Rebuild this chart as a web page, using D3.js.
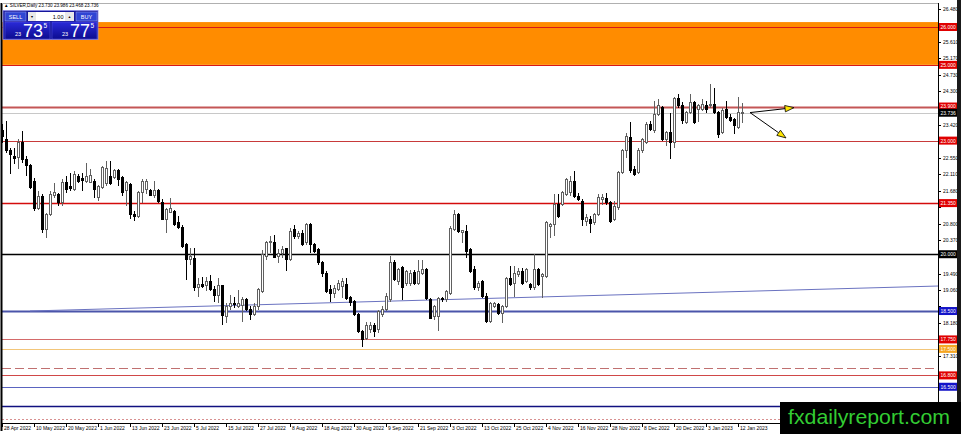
<!DOCTYPE html>
<html><head><meta charset="utf-8">
<script src="https://cdn.jsdelivr.net/npm/d3@7"></script>
<style>html,body{margin:0;padding:0;background:#fff;overflow:hidden}svg{display:block}</style>
</head><body>
<svg id="c" width="961" height="434"></svg>
<script>
// ---------- data ----------
const opens  = [23.26,23.03,22.73,22.59,22.55,22.95,22.51,22.33,21.93,21.21,21.53,20.65,21.05,21.55,21.58,21.36,21.89,21.80,21.71,22.06,22.00,21.93,21.90,21.93,21.49,21.75,21.87,22.06,22.02,22.20,22.02,21.67,21.84,21.05,21.00,21.62,21.71,21.67,21.55,21.67,21.36,20.92,21.11,21.14,20.83,20.70,20.25,19.87,19.90,19.13,19.19,19.17,19.28,19.08,18.90,19.17,18.36,18.62,18.71,18.62,18.64,18.80,18.55,18.40,18.62,19.02,19.94,20.30,20.32,19.94,20.03,20.14,19.86,20.65,20.47,20.56,20.30,20.78,20.25,20.12,19.77,19.50,19.06,18.97,19.06,19.15,19.19,18.87,18.75,18.40,17.96,17.78,18.00,18.11,18.00,18.40,18.53,18.80,19.77,19.28,19.64,19.24,19.24,19.52,19.24,19.50,19.59,18.80,18.35,18.35,18.84,18.80,18.97,20.65,21.05,20.58,20.61,20.12,19.59,19.11,19.28,18.88,18.22,18.62,18.66,18.44,18.62,19.37,19.24,19.46,19.55,19.28,19.19,19.11,19.59,19.41,19.41,20.74,20.78,21.31,21.31,21.58,21.62,21.93,21.53,21.40,20.87,20.93,20.83,21.05,21.45,21.47,21.36,20.92,21.23,22.15,22.73,23.08,22.24,22.15,22.73,22.95,23.43,23.26,23.70,23.87,23.03,23.21,22.95,24.10,23.92,23.48,23.74,24.01,23.83,23.83,23.94,23.92,23.96,23.74,23.21,23.83,23.61,23.57,23.34,23.730];
const highs  = [23.45,23.52,22.81,22.81,23.03,23.26,22.59,22.37,22.00,21.67,21.58,21.09,21.67,21.89,21.62,21.98,22.06,22.15,22.20,22.11,22.15,22.42,22.24,21.98,21.84,22.33,22.46,22.46,22.24,22.24,22.06,21.93,21.89,21.14,21.67,21.98,21.98,21.71,21.93,21.71,21.45,21.22,21.49,21.18,21.00,20.78,20.30,20.16,20.16,19.37,19.41,19.41,19.46,19.15,19.37,19.20,18.71,18.93,18.88,19.06,18.87,18.84,18.62,18.71,19.10,20.12,20.34,20.47,20.52,20.14,20.21,20.16,20.70,20.76,20.61,20.65,20.83,20.83,20.30,20.16,19.81,19.55,19.19,19.19,19.33,19.37,19.37,18.90,18.79,18.44,18.00,18.22,18.22,18.18,18.53,18.62,18.97,19.94,19.86,19.64,19.68,19.59,19.59,19.59,19.86,19.86,19.64,18.84,18.66,18.88,18.88,19.06,20.74,21.18,21.10,20.65,20.78,20.17,19.68,19.28,19.33,18.97,18.75,18.75,18.71,18.66,19.41,19.68,19.68,19.64,19.64,19.64,19.24,20.00,19.64,19.50,20.87,20.83,21.58,21.58,21.67,22.02,22.06,22.20,21.62,21.45,21.05,21.00,21.09,21.58,21.58,21.62,21.40,21.40,22.20,22.77,23.21,23.48,22.33,22.81,23.08,23.48,23.52,24.05,24.10,23.92,23.26,23.74,24.14,24.23,24.01,23.79,24.23,24.05,23.96,24.10,24.05,24.49,24.40,23.79,23.87,24.05,23.70,23.61,24.14,23.986];
const lows   = [22.95,22.68,22.11,22.37,22.24,22.42,22.06,21.73,21.14,21.18,20.56,20.43,21.00,21.49,21.27,21.27,21.62,21.67,21.67,21.89,21.67,21.89,21.89,21.49,21.40,21.71,21.80,21.84,21.98,21.80,21.53,21.27,20.92,20.87,20.96,21.36,21.58,21.53,21.49,21.36,20.90,20.56,21.09,20.74,20.66,20.17,19.33,19.72,19.02,18.88,19.10,19.02,19.02,18.75,18.71,18.13,18.18,18.53,18.58,18.58,18.22,18.49,18.27,18.36,18.53,18.97,19.86,20.03,19.90,19.77,19.90,19.55,19.81,20.39,20.39,20.21,20.25,20.03,20.03,19.72,19.41,18.97,18.75,18.84,19.02,18.84,18.79,18.62,18.36,17.91,17.54,17.74,17.91,17.82,17.91,18.35,18.49,18.75,19.28,19.19,18.80,19.15,19.15,19.19,19.19,19.46,18.80,18.29,18.27,17.96,18.75,18.75,18.93,20.61,20.56,20.30,19.90,19.50,19.06,19.02,18.84,18.18,18.18,18.58,18.40,18.18,18.58,19.15,18.88,19.41,19.19,19.24,19.06,19.06,19.15,18.84,19.37,20.43,20.47,20.96,21.27,21.53,21.53,21.49,21.40,20.74,20.74,20.56,20.78,21.00,21.31,21.31,20.83,20.87,21.18,22.11,22.55,22.15,22.06,22.11,22.68,22.90,23.26,23.21,23.65,22.99,22.86,22.51,22.81,23.87,23.43,23.43,23.70,23.43,23.48,23.79,23.74,23.87,23.70,23.08,23.17,23.57,23.48,23.17,23.30,23.468];
const closes = [23.12,22.73,22.64,22.52,22.95,22.51,22.33,21.75,21.22,21.52,20.65,21.05,21.58,21.62,21.36,21.89,21.71,21.73,22.11,21.93,21.95,22.06,22.08,21.71,21.78,22.28,22.26,21.87,22.20,21.98,21.62,21.89,21.05,21.00,21.62,21.93,21.93,21.55,21.67,21.40,20.92,21.18,21.20,20.78,20.70,20.21,19.86,19.94,19.11,19.19,19.15,19.28,19.06,18.90,19.17,18.37,18.62,18.70,18.66,18.71,18.81,18.53,18.40,18.62,19.06,19.99,20.30,20.34,19.92,20.03,20.12,19.86,20.61,20.47,20.54,20.25,20.78,20.25,20.08,19.77,19.50,19.02,18.97,19.10,19.24,19.28,18.84,18.72,18.40,17.96,17.74,18.13,18.13,17.96,18.49,18.53,18.88,19.77,19.33,19.59,19.11,19.55,19.50,19.24,19.55,19.59,18.84,18.31,18.62,18.84,18.80,19.02,20.69,21.05,20.61,20.63,20.08,19.55,19.11,19.24,18.88,18.22,18.71,18.69,18.44,18.62,19.37,19.19,19.50,19.55,19.24,19.59,19.11,19.59,19.19,19.46,20.83,20.78,21.31,21.00,21.62,21.98,21.93,21.53,21.45,20.92,20.96,20.81,21.05,21.49,21.49,21.36,20.87,21.27,22.15,22.73,23.12,22.20,22.11,22.73,23.03,23.43,23.30,23.70,23.92,23.03,23.21,22.95,24.10,23.92,23.52,23.74,24.01,23.48,23.92,23.96,23.81,23.96,23.74,23.17,23.79,23.61,23.52,23.39,23.74,23.736];

const dateLabels = ["28 Apr 2022","10 May 2022","20 May 2022","1 Jun 2022","13 Jun 2022","23 Jun 2022","5 Jul 2022","15 Jul 2022","27 Jul 2022","8 Aug 2022","18 Aug 2022","30 Aug 2022","9 Sep 2022","21 Sep 2022","3 Oct 2022","13 Oct 2022","25 Oct 2022","4 Nov 2022","16 Nov 2022","28 Nov 2022","8 Dec 2022","20 Dec 2022","3 Jan 2023","12 Jan 2023"];
const dateLabelBars = [0,8,16,24,32,40,48,56,64,72,80,88,96,104,112,120,128,136,144,152,160,168,176,184];

const priceTicks = [26.48,26.04,25.61,25.17,24.73,24.30,23.86,23.42,22.99,22.55,22.11,21.68,21.24,20.80,20.37,19.93,19.49,19.06,18.62,18.18,17.75,17.31,16.87,16.43,16.00,15.56];

// horizontal levels
const zonePrices = [26.13, 25.00];              // orange supply zone
const levelPrices = [26.00, 25.00, 23.90, 23.736, 23.00, 21.35, 20.00, 18.50, 17.75, 17.50, 17.00, 16.80, 16.50, 16.00, 15.65];
const levelTags   = ["26.000","25.000","23.900","23.736","23.000","21.350","20.000","18.500","17.750","17.500","","16.800","16.500","",""];
const trendBars   = [7, 234];
const trendPrices = [18.50, 19.16];
const arrowFrom   = [187, 23.74];
const arrowToBars   = [198, 196];
const arrowToPrices = [23.87, 23.07];

const headerText = "SILVER,Daily 23.730 23.986 23.468 23.736";
const sellQuote = ["23","73","5"], buyQuote = ["23","77","5"], lotSize = "1.00";

// ---------- styles (per level, by position in levelPrices) ----------
const levelStyle = [
  {c:"#d81818",w:1},{c:"#d81818",w:1},{c:"#c45656",w:2},{c:"#c8c8c8",w:1},{c:"#c83a3a",w:1},
  {c:"#d40c0c",w:1.5},{c:"#000000",w:1.5},{c:"#4b55aa",w:2},{c:"#d46a6a",w:1},{c:"#f3c679",w:1},
  {c:"#c07070",w:1,dash:"9,4"},{c:"#d04848",w:1},{c:"#5a64c0",w:1},{c:"#101080",w:1.5},{c:"#d89090",w:1,dash:"2,2"}
];
const tagBg = ["#e00000","#e00000","#e00000","#000000","#e00000","#e00000","#000000","#1414c8","#e00000","#f5a623","","#e00000","#1414c8","",""];

// ---------- drawing ----------
const svg = d3.select("#c");
const L = 2, R = 938, T = 3, B = 423;
const x = d3.scaleLinear().domain([0, 234]).range([L, R]);
const y = d3.scaleLinear().domain([16, 26]).range([405.7, 27]);
const font = "'Liberation Sans', Arial, sans-serif";
const logoTop = 402;

svg.append("rect").attr("width",961).attr("height",434).attr("fill","#fff");

const plot = svg.append("g");
plot.append("clipPath").attr("id","pc").append("rect").attr("x",L).attr("y",T).attr("width",R-L).attr("height",B-T);
const pg = plot.append("g").attr("clip-path","url(#pc)");

// zone
pg.append("rect").attr("x",L).attr("width",R-L)
  .attr("y",y(zonePrices[0])).attr("height",y(zonePrices[1])-y(zonePrices[0]))
  .attr("fill","#ff8c00");

// levels
levelPrices.forEach((p,k)=>{
  const s = levelStyle[k];
  pg.append("line").attr("x1",L).attr("x2",R)
    .attr("y1",Math.round(y(p))+0.5).attr("y2",Math.round(y(p))+0.5)
    .attr("stroke",s.c).attr("stroke-width",s.w)
    .attr("stroke-dasharray",s.dash||null);
});

// trend line
pg.append("line")
  .attr("x1",x(trendBars[0])).attr("y1",y(trendPrices[0]))
  .attr("x2",x(trendBars[1])).attr("y2",y(trendPrices[1]))
  .attr("stroke","#6a72c0").attr("stroke-width",1);

// candles
const bars = d3.range(closes.length).map(i=>({i,o:opens[i],h:highs[i],l:lows[i],c:closes[i]}));
const cg = pg.append("g").attr("shape-rendering","crispEdges");
cg.selectAll("line.w").data(bars).join("line").attr("class","w")
  .attr("x1",d=>x(d.i)+0.5).attr("x2",d=>x(d.i)+0.5)
  .attr("y1",d=>y(d.h)).attr("y2",d=>y(d.l))
  .attr("stroke",d=>d.c>=d.o?"#606060":"#000").attr("stroke-width",1);
cg.selectAll("rect.b").data(bars).join("rect").attr("class","b")
  .attr("x",d=>x(d.i)-0.5).attr("width",2)
  .attr("y",d=>y(Math.max(d.o,d.c)))
  .attr("height",d=>Math.max(0.5, Math.abs(y(d.o)-y(d.c))))
  .attr("fill",d=>d.c>=d.o?"#fff":"#000")
  .attr("stroke",d=>d.c>=d.o?"#606060":"#000").attr("stroke-width",1);

// arrows
const ag = pg.append("g");
arrowToBars.forEach((b,k)=>{
  const x0=x(arrowFrom[0]), y0=y(arrowFrom[1]), x1=x(b), y1=y(arrowToPrices[k]);
  const ang=Math.atan2(y1-y0,x1-x0), len=9, half=3.2;
  const bx=x1-len*Math.cos(ang), by=y1-len*Math.sin(ang);
  ag.append("line").attr("x1",x0).attr("y1",y0).attr("x2",bx).attr("y2",by).attr("stroke","#000").attr("stroke-width",1);
  const p1=[bx+half*Math.sin(ang), by-half*Math.cos(ang)], p2=[bx-half*Math.sin(ang), by+half*Math.cos(ang)];
  ag.append("path").attr("d",`M${x1},${y1}L${p1[0]},${p1[1]}L${p2[0]},${p2[1]}Z`)
    .attr("fill","#ffe600").attr("stroke","#000").attr("stroke-width",0.8);
});

// frame
svg.append("line").attr("x1",L).attr("x2",R).attr("y1",B+0.5).attr("y2",B+0.5).attr("stroke","#000");
svg.append("line").attr("x1",R+0.5).attr("x2",R+0.5).attr("y1",T).attr("y2",434).attr("stroke","#000");
svg.append("line").attr("x1",1.5).attr("x2",1.5).attr("y1",T).attr("y2",B+8).attr("stroke","#000").attr("stroke-width",2);
svg.append("line").attr("x1",L).attr("x2",R).attr("y1",T+0.5).attr("y2",T+0.5).attr("stroke","#b0b0b0");

// price axis ticks (labels fully hidden under a level tag or the logo are not drawn)
const ya = svg.append("g");
const tagYs = levelPrices.filter((p,k)=>levelTags[k]).map(p=>y(p));
priceTicks.forEach(p=>{
  const yy=Math.round(y(p))+0.5;
  if (yy > logoTop) return;
  ya.append("line").attr("x1",R).attr("x2",R+3).attr("y1",yy).attr("y2",yy).attr("stroke","#000");
  if (tagYs.some(t=>Math.abs(t-yy)<4.6)) return;
  ya.append("text").attr("x",R+5).attr("y",yy+1.8).text(p.toFixed(3))
    .attr("font-family",font).attr("font-size",5).attr("fill","#000");
});
// level tags
levelPrices.forEach((p,k)=>{
  if(!levelTags[k]) return;
  const yy=y(p);
  ya.append("rect").attr("x",R+1).attr("y",yy-4).attr("width",19).attr("height",8).attr("fill",tagBg[k]);
  ya.append("text").attr("x",R+2.5).attr("y",yy+1.9).text(levelTags[k])
    .attr("font-family",font).attr("font-size",5).attr("fill","#fff");
});

// time axis
const xa = svg.append("g");
dateLabels.forEach((t,k)=>{
  const xx=Math.round(x(dateLabelBars[k]))+0.5;
  xa.append("line").attr("x1",xx).attr("x2",xx).attr("y1",B).attr("y2",B+4).attr("stroke","#000");
  xa.append("text").attr("x",xx+1.5).attr("y",430).text(t)
    .attr("font-family",font).attr("font-size",5).attr("fill","#000");
});

// right window edge
svg.append("rect").attr("x",957).attr("y",0).attr("width",4).attr("height",434).attr("fill","#1a1a1a");

// header
svg.append("text").attr("x",4).attr("y",7).text("\u25B2 "+headerText)
  .attr("font-family",font).attr("font-size",4.6).attr("fill","#000");

// one-click trading panel
const tp = svg.append("g").attr("font-family",font);
const grad = svg.append("defs").append("linearGradient").attr("id","bg1").attr("x1",0).attr("y1",0).attr("x2",0).attr("y2",1);
grad.append("stop").attr("offset","0%").attr("stop-color","#2a2ad8");
grad.append("stop").attr("offset","100%").attr("stop-color","#0c0c90");
tp.append("rect").attr("x",3).attr("y",10.5).attr("width",95).attr("height",29).attr("fill","#15159a").attr("stroke","#8a8ae8").attr("stroke-width",0.8);
tp.append("rect").attr("x",5).attr("y",12).attr("width",21).attr("height",9).attr("fill","#3045d4").attr("stroke","#a0a8f0").attr("stroke-width",0.5);
tp.append("text").attr("x",15.5).attr("y",18.6).attr("text-anchor","middle").text("SELL").attr("font-size",5.5).attr("fill","#fff");
tp.append("rect").attr("x",76).attr("y",12).attr("width",21).attr("height",9).attr("fill","#3045d4").attr("stroke","#a0a8f0").attr("stroke-width",0.5);
tp.append("text").attr("x",86.5).attr("y",18.6).attr("text-anchor","middle").text("BUY").attr("font-size",5.5).attr("fill","#fff");
tp.append("rect").attr("x",28).attr("y",12).attr("width",8).attr("height",9).attr("fill","#e8e8e8");
tp.append("text").attr("x",32).attr("y",18).attr("text-anchor","middle").text("\u25BC").attr("font-size",3.5).attr("fill","#000");
tp.append("rect").attr("x",36).attr("y",12).attr("width",29).attr("height",9).attr("fill","#fff");
tp.append("text").attr("x",63.5).attr("y",18.6).attr("text-anchor","end").text(lotSize).attr("font-size",5.5).attr("fill","#000");
tp.append("rect").attr("x",65).attr("y",12).attr("width",9).attr("height",9).attr("fill","#e8e8e8");
tp.append("text").attr("x",69.5).attr("y",18).attr("text-anchor","middle").text("\u25B2").attr("font-size",3.5).attr("fill","#000");
[[5,sellQuote],[52,buyQuote]].forEach(([bx,q])=>{
  tp.append("rect").attr("x",bx).attr("y",22).attr("width",45).attr("height",17).attr("fill","url(#bg1)").attr("stroke","#5a5ae0").attr("stroke-width",0.5);
  tp.append("text").attr("x",bx+10).attr("y",36).text(q[0]).attr("font-size",5.5).attr("fill","#fff");
  tp.append("text").attr("x",bx+18).attr("y",37).text(q[1]).attr("font-size",18).attr("fill","#fff");
  tp.append("text").attr("x",bx+38.5).attr("y",28).text(q[2]).attr("font-size",6.5).attr("fill","#fff");
});

// logo
svg.append("rect").attr("x",780).attr("y",logoTop).attr("width",181).attr("height",32).attr("fill","#000");
svg.append("text").attr("x",788).attr("y",424).text("fxdailyreport.com")
  .attr("font-family",font).attr("font-size",21).attr("fill","#33cc33")
  .attr("textLength",162).attr("lengthAdjust","spacingAndGlyphs");
</script>
</body></html>
